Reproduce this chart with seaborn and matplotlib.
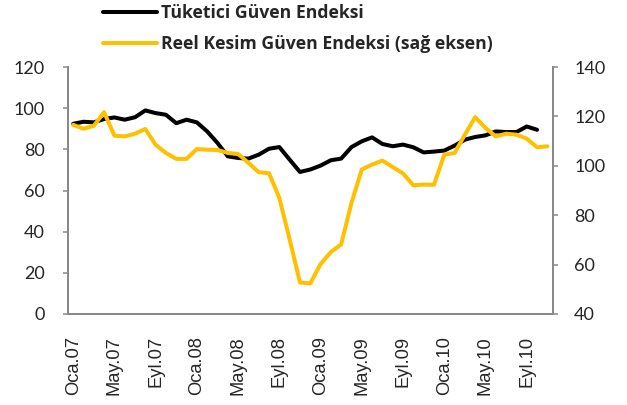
import pandas as pd
import matplotlib.pyplot as plt
import seaborn as sns

# monthly data, Oca.07 .. Kas.10
tuketici = [92.4, 93.4, 93.1, 94.7, 95.5, 94.4, 95.6, 98.9, 97.6, 96.8,
            92.7, 94.4, 93.1, 88.7, 83.1, 76.6, 75.8, 75.5, 77.4, 80.3,
            81.1, 75.0, 69.0, 70.2, 72.1, 74.7, 75.5, 81.1, 83.9, 85.8,
            82.6, 81.5, 82.3, 81.0, 78.5, 78.9, 79.4, 81.8, 84.7, 86.0,
            86.8, 88.7, 88.4, 88.4, 91.1, 89.5]
reel_kesim = [116.6, 115.0, 116.2, 121.7, 112.2, 111.9, 113.0, 114.9, 108.5, 105.2,
              102.8, 102.8, 106.8, 106.5, 106.4, 105.2, 104.8, 101.2, 97.4, 97.0,
              87.0, 70.2, 52.8, 52.4, 60.2, 65.1, 68.2, 85.0, 98.5, 100.5,
              102.1, 99.5, 96.9, 92.1, 92.4, 92.3, 104.5, 105.2, 112.6, 119.7,
              115.3, 111.9, 113.0, 112.6, 111.0, 107.5, 107.9]
tick_labels = ["Oca.07", "May.07", "Eyl.07", "Oca.08", "May.08", "Eyl.08",
               "Oca.09", "May.09", "Eyl.09", "Oca.10", "May.10", "Eyl.10"]

df1 = pd.DataFrame({"t": range(len(tuketici)), "v": tuketici})
df2 = pd.DataFrame({"t": range(len(reel_kesim)), "v": reel_kesim})

sns.set_style("white")
plt.rcParams["font.family"] = ["Liberation Sans", "DejaVu Sans"]
grey = "#898989"

fig = plt.figure(figsize=(6.27, 4.05), dpi=100)
ax = fig.add_axes([68/627, 1-314/405, (552.5-68)/627, (314-67)/405])
ax2 = ax.twinx()

sns.lineplot(data=df1, x="t", y="v", ax=ax, color="black", linewidth=2.9,
             label="Tüketici Güven Endeksi", legend=False)
sns.lineplot(data=df2, x="t", y="v", ax=ax2, color="#FFC000", linewidth=2.9,
             label="Reel Kesim Güven Endeksi (sağ eksen)", legend=False)

ax.set_xlim(-0.5, 46.5)
ax.set_ylim(0, 120)
ax.set_yticks(range(0, 121, 20))
ax2.set_ylim(40, 140)
ax2.set_yticks(range(40, 141, 20))

ax.set_xticks([i - 0.5 for i in range(0, 47, 4)] + [46.5])
ax.set_xticklabels([])
ax.set_xticks(range(0, 45, 4), minor=True)
ax.set_xticklabels(tick_labels, minor=True, rotation=90)
ax.tick_params(axis="x", which="minor", length=0, pad=16, labelsize=13.2)
ax.tick_params(axis="x", which="major", length=3.6, width=1.1, color=grey, direction="out")
ax.tick_params(axis="y", length=3.6, width=1.1, color=grey, left=True, pad=13)
ax2.tick_params(axis="y", length=3.6, width=1.1, color=grey, right=True, pad=12)
for lab in ax.get_yticklabels() + ax2.get_yticklabels():
    lab.set_fontfamily("Lato")
    lab.set_fontsize(13)

for a in (ax, ax2):
    a.set_xlabel("")
    a.set_ylabel("")
    a.spines["top"].set_visible(False)
    for s in ("left", "right", "bottom"):
        a.spines[s].set_color(grey)
        a.spines[s].set_linewidth(1.4)

h1, l1 = ax.get_legend_handles_labels()
h2, l2 = ax2.get_legend_handles_labels()
fig.legend(h1 + h2, l1 + l2, loc="upper left", bbox_to_anchor=(103/627, 1 - 4/405),
           frameon=False, handlelength=3.07, labelspacing=0.75, handletextpad=0.2,
           borderpad=0, borderaxespad=0,
           prop={"family": "Open Sans", "weight": "bold", "size": 12.7})

fig.savefig("out.png", dpi=100)
